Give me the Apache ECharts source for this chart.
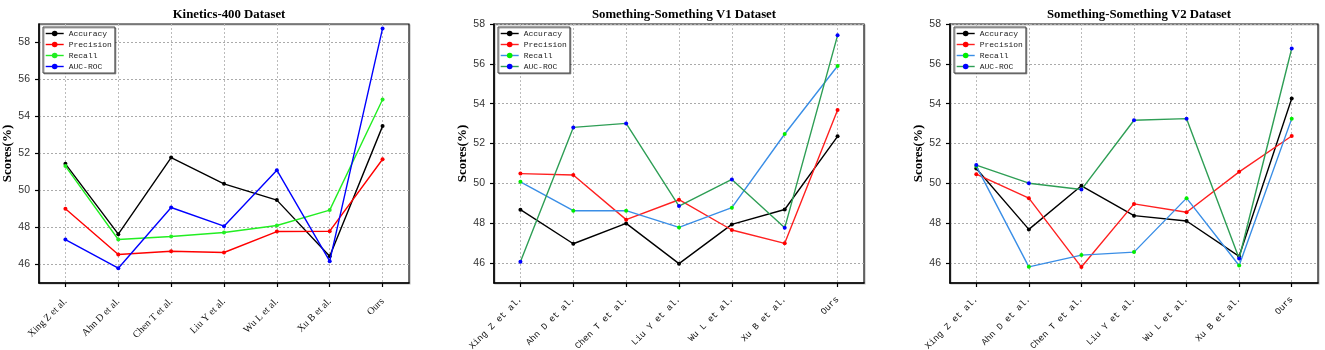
<!DOCTYPE html>
<html>
<head>
<meta charset="utf-8">
<script src="https://cdn.jsdelivr.net/npm/echarts@6/dist/echarts.min.js"></script>
<style>
html,body{margin:0;padding:0;background:#fff;}
#chart{width:1325px;height:350px;}
</style>
</head>
<body>
<div id="chart"></div>
<script>
// ---------- data ----------
const categories = ['Xing Z et al.', 'Ahn D et al.', 'Chen T et al.', 'Liu Y et al.', 'Wu L et al.', 'Xu B et al.', 'Ours'];
const seriesNames = ['Accuracy', 'Precision', 'Recall', 'AUC-ROC'];
const panelTitles = ['Kinetics-400 Dataset', 'Something-Something V1 Dataset', 'Something-Something V2 Dataset'];
const yTicks = [46, 48, 50, 52, 54, 56, 58];

const k400Accuracy  = [51.44, 47.64, 51.78, 50.36, 49.48, 46.45, 53.48];
const k400Precision = [49.01, 46.54, 46.72, 46.65, 47.78, 47.80, 51.69];
const k400Recall    = [51.32, 47.35, 47.51, 47.73, 48.11, 48.94, 54.92];
const k400AucRoc    = [47.35, 45.80, 49.08, 48.07, 51.10, 46.18, 58.76];

const v1Accuracy  = [48.68, 46.97, 47.99, 45.97, 47.94, 48.69, 52.36];
const v1Precision = [50.49, 50.42, 48.18, 49.18, 47.66, 46.99, 53.68];
const v1Recall    = [50.08, 48.63, 48.63, 47.79, 48.78, 52.48, 55.89];
const v1AucRoc    = [46.07, 52.81, 53.01, 48.86, 50.20, 47.77, 57.43];

const v2Accuracy  = [50.75, 47.69, 49.88, 48.38, 48.11, 46.34, 54.26];
const v2Precision = [50.46, 49.26, 45.80, 48.97, 48.55, 50.58, 52.38];
const v2Recall    = [50.87, 45.81, 46.40, 46.55, 49.26, 45.88, 53.25];
const v2AucRoc    = [50.92, 50.01, 49.69, 53.17, 53.25, 46.23, 56.77];

// ---------- layout / style ----------
const panels = [
  { data: [k400Accuracy, k400Precision, k400Recall, k400AucRoc], left: 39, width: 370, yMax: 59,
    lineColors: ['#000000', '#ff0000', '#22ee22', '#0000ff'],
    dotColors:  ['#000000', '#ff0000', '#22ee22', '#0000ff'],
    xFont: 'Liberation Serif', xSize: 10, xMargin: 17 },
  { data: [v1Accuracy, v1Precision, v1Recall, v1AucRoc], left: 494, width: 370, yMax: 58,
    lineColors: ['#000000', '#ff2020', '#3a8ee6', '#2e9e55'],
    dotColors:  ['#000000', '#ff0000', '#00ee00', '#0000ff'],
    xFont: 'Liberation Mono', xSize: 9, xMargin: 15 },
  { data: [v2Accuracy, v2Precision, v2Recall, v2AucRoc], left: 950, width: 368, yMax: 58,
    lineColors: ['#000000', '#ff2020', '#3a8ee6', '#2e9e55'],
    dotColors:  ['#000000', '#ff0000', '#00ee00', '#0000ff'],
    xFont: 'Liberation Mono', xSize: 9, xMargin: 15 }
];

const grids = [], xAxes = [], yAxes = [], titles = [], legends = [], series = [];
panels.forEach((p, i) => {
  grids.push({ left: p.left, width: p.width, top: 24, height: 259, show: true,
    outerBoundsMode: 'none', containLabel: false,
    borderColor: '#111', borderWidth: 1.2, backgroundColor: 'transparent',
    shadowColor: 'rgba(0,0,0,0.25)', shadowOffsetX: 1, shadowOffsetY: 1 });
  titles.push({ text: panelTitles[i], left: p.left + p.width / 2, top: 3, textAlign: 'center',
    textStyle: { fontFamily: 'Liberation Serif', fontWeight: 'bold', fontSize: 12.8, color: '#000' } });
  xAxes.push({ type: 'category', gridIndex: i, data: categories, boundaryGap: true,
    axisLine: { lineStyle: { color: '#000', width: 1.5 } },
    axisTick: { show: true, alignWithLabel: true, interval: 0, length: 4, lineStyle: { color: '#000', width: 1.2 } },
    axisLabel: { interval: 0, rotate: 45, margin: p.xMargin, fontFamily: p.xFont, fontSize: p.xSize, color: '#111' },
    splitLine: { show: true, alignWithLabel: true, interval: 0, lineStyle: { color: '#bbb', type: [2, 2], width: 1 } } });
  yAxes.push({ type: 'value', gridIndex: i, min: 45, max: p.yMax,
    name: 'Scores(%)', nameLocation: 'middle', nameGap: 20, nameRotate: 90,
    nameTextStyle: { fontFamily: 'Liberation Serif', fontWeight: 'bold', fontSize: 13, color: '#000' },
    axisLine: { show: true, lineStyle: { color: '#000', width: 1.5 } },
    axisTick: { show: true, length: 4, customValues: yTicks, lineStyle: { color: '#000', width: 1.2 } },
    axisLabel: { customValues: yTicks, margin: 9, fontFamily: 'Liberation Sans', fontSize: 10.5, color: '#333' },
    splitLine: { show: true, lineStyle: { color: '#aaa', type: [2, 2], width: 1 } } });
  legends.push({
    data: seriesNames.map((n, k) => ({ name: n,
      itemStyle: { color: p.dotColors[k] },
      lineStyle: { color: p.lineColors[k], width: 1.4 } })),
    left: p.left + 4, top: 27, orient: 'vertical',
    itemWidth: 18, itemHeight: 7, itemGap: 2, padding: [2, 3, 2, 2],
    backgroundColor: '#fff', borderColor: '#444', borderWidth: 1,
    shadowColor: 'rgba(0,0,0,0.35)', shadowOffsetX: 1, shadowOffsetY: 1,
    textStyle: { fontFamily: 'Liberation Mono', fontSize: 8, color: '#222', lineHeight: 9 },
    selectedMode: false });
  p.data.forEach((vals, k) => {
    series.push({ name: seriesNames[k], type: 'line', xAxisIndex: i, yAxisIndex: i, data: vals,
      symbol: 'circle', symbolSize: 4, showSymbol: true,
      lineStyle: { color: p.lineColors[k], width: 1.4 },
      itemStyle: { color: p.dotColors[k] }, z: 3 + k, animation: false });
  });
});

const chart = echarts.init(document.getElementById('chart'), null, { renderer: 'canvas' });
chart.setOption({
  backgroundColor: '#fff',
  animation: false,
  title: titles,
  grid: grids,
  xAxis: xAxes,
  yAxis: yAxes,
  legend: legends,
  series: series
});
</script>
</body>
</html>
